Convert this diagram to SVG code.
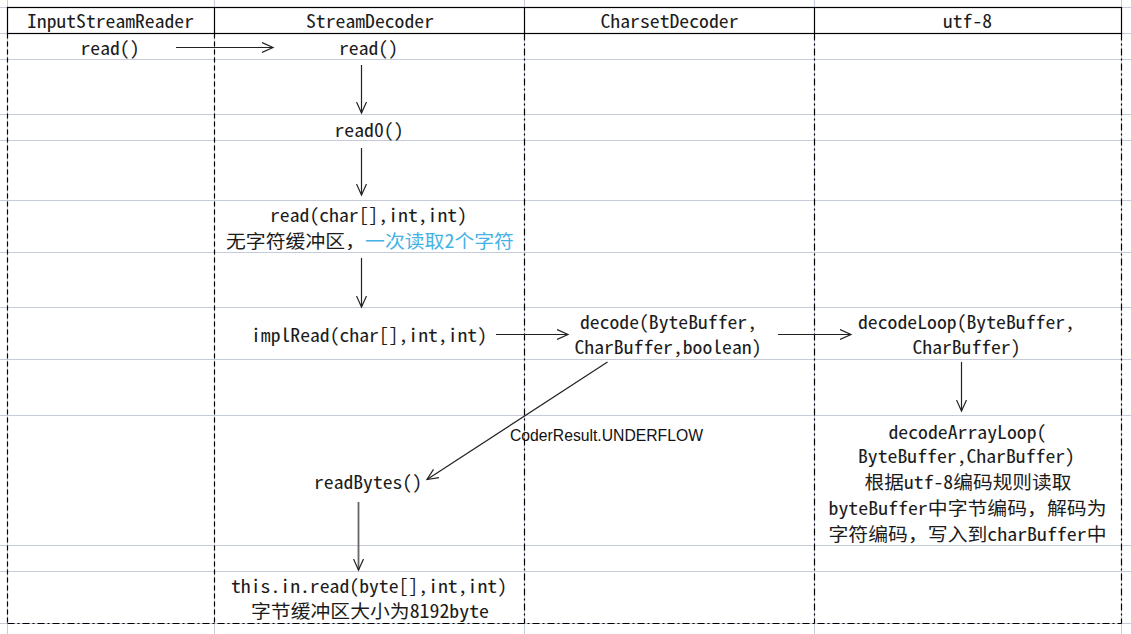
<svg xmlns="http://www.w3.org/2000/svg" width="1131" height="634" viewBox="0 0 1131 634">
<style>
.grid{stroke:#c5cbd8;stroke-width:1;fill:none}
.hdr{stroke:#000;stroke-width:1.2;fill:none}
.dash{stroke:#000;stroke-width:1.2;stroke-dasharray:5,3;fill:none}
.dashdot{stroke:#000;stroke-width:1.2;stroke-dasharray:7,3,2,3;fill:none}
.t{font-family:"Noto Sans Mono CJK SC","Liberation Mono","Noto Sans CJK SC",monospace;font-size:18.5px;fill:#1c1c1c;text-anchor:middle}
.lbl{font-family:"Liberation Sans","Noto Sans",sans-serif;font-size:16px;fill:#111}
.blue{fill:#45b2e6}
.c{stroke:#222;stroke-width:1.2;fill:none;marker-end:url(#ah)}
</style>
<defs>
<marker id="ah" markerUnits="userSpaceOnUse" markerWidth="13" markerHeight="12" refX="11" refY="6" orient="auto">
<path d="M0,1 L11,6 L0,11" fill="none" stroke="#222" stroke-width="1.2"/>
</marker>
</defs>
<rect width="1131" height="634" fill="#fff"/>
<g id="grid">
<path class="grid" d="M0,7.5H1131M0,33.5H1131M0,59.5H1131M0,114.5H1131M0,140.5H1131M0,200.5H1131M0,252.5H1131M0,307.5H1131M0,359.5H1131M0,415.5H1131M0,545.5H1131M0,571.5H1131M0,623.5H1131"/>
<path class="grid" d="M7.5,0V634M214.5,0V634M524.5,0V634M814.5,0V634M1121.5,0V634"/>
</g>
<g id="lanes">
<rect class="hdr" x="7.5" y="7.5" width="1114" height="26"/>
<path class="hdr" d="M214.5,7.5V33.5M524.5,7.5V33.5M814.5,7.5V33.5"/>
<path class="dash" d="M7.5,33.5V623.5M214.5,33.5V623.5"/>
<path class="dashdot" d="M524.5,33.5V623.5M814.5,33.5V623.5M1121.5,33.5V623.5M7.5,623.5H1121.5"/>
</g>
<g id="header-InputStreamReader"><text class="t" x="110.5" y="28" textLength="167" lengthAdjust="spacingAndGlyphs">InputStreamReader</text></g>
<g id="header-StreamDecoder"><text class="t" x="370" y="28" textLength="128" lengthAdjust="spacingAndGlyphs">StreamDecoder</text></g>
<g id="header-CharsetDecoder"><text class="t" x="669.5" y="28" textLength="138" lengthAdjust="spacingAndGlyphs">CharsetDecoder</text></g>
<g id="header-utf8"><text class="t" x="967.5" y="28" textLength="49" lengthAdjust="spacingAndGlyphs">utf-8</text></g>
<g id="isr-read"><text class="t" x="110" y="55" textLength="59" lengthAdjust="spacingAndGlyphs">read()</text></g>
<g id="sd-read"><text class="t" x="368.5" y="55" textLength="59" lengthAdjust="spacingAndGlyphs">read()</text></g>
<g id="sd-read0"><text class="t" x="369" y="137" textLength="69" lengthAdjust="spacingAndGlyphs">read0()</text></g>
<g id="sd-read-char">
<text class="t" x="368.5" y="222" textLength="197" lengthAdjust="spacingAndGlyphs">read(char[],int,int)</text>
<text class="t" x="370" y="248" textLength="288" lengthAdjust="spacingAndGlyphs">无字符缓冲区，<tspan class="blue">一次读取2个字符</tspan></text>
</g>
<g id="sd-implRead"><text class="t" x="369" y="342" textLength="236" lengthAdjust="spacingAndGlyphs">implRead(char[],int,int)</text></g>
<g id="cd-decode">
<text class="t" x="668.5" y="329" textLength="177" lengthAdjust="spacingAndGlyphs">decode(ByteBuffer,</text>
<text class="t" x="668" y="354" textLength="187" lengthAdjust="spacingAndGlyphs">CharBuffer,boolean)</text>
</g>
<g id="u8-decodeLoop">
<text class="t" x="966.5" y="329" textLength="217" lengthAdjust="spacingAndGlyphs">decodeLoop(ByteBuffer,</text>
<text class="t" x="966.5" y="354" textLength="108" lengthAdjust="spacingAndGlyphs">CharBuffer)</text>
</g>
<g id="u8-decodeArrayLoop">
<text class="t" x="967.5" y="439" textLength="158" lengthAdjust="spacingAndGlyphs">decodeArrayLoop(</text>
<text class="t" x="966.5" y="463" textLength="217" lengthAdjust="spacingAndGlyphs">ByteBuffer,CharBuffer)</text>
<text class="t" x="968" y="489" textLength="207" lengthAdjust="spacingAndGlyphs">根据utf-8编码规则读取</text>
<text class="t" x="967.5" y="515" textLength="278" lengthAdjust="spacingAndGlyphs">byteBuffer中字节编码，解码为</text>
<text class="t" x="967.5" y="541" textLength="278" lengthAdjust="spacingAndGlyphs">字符编码，写入到charBuffer中</text>
</g>
<g id="sd-readBytes"><text class="t" x="368" y="489" textLength="108" lengthAdjust="spacingAndGlyphs">readBytes()</text></g>
<g id="in-read">
<text class="t" x="369" y="593" textLength="276" lengthAdjust="spacingAndGlyphs">this.in.read(byte[],int,int)</text>
<text class="t" x="370" y="618" textLength="238" lengthAdjust="spacingAndGlyphs">字节缓冲区大小为8192byte</text>
</g>
<g id="connectors">
<path class="c" d="M176,47.5H273"/>
<path class="c" d="M361.5,65V113"/>
<path class="c" d="M361.5,148V195"/>
<path class="c" d="M361.5,258V307"/>
<path class="c" d="M496,334.5H568"/>
<path class="c" d="M778,334.5H851"/>
<path class="c" d="M961.5,362V411"/>
<path class="c" d="M607.5,362L427,479.5"/>
<path class="c" d="M358.5,502V570" style="stroke:#666;stroke-width:1.8"/>
<text class="lbl" x="510" y="441" textLength="193" lengthAdjust="spacingAndGlyphs">CoderResult.UNDERFLOW</text>
</g>
</svg>
